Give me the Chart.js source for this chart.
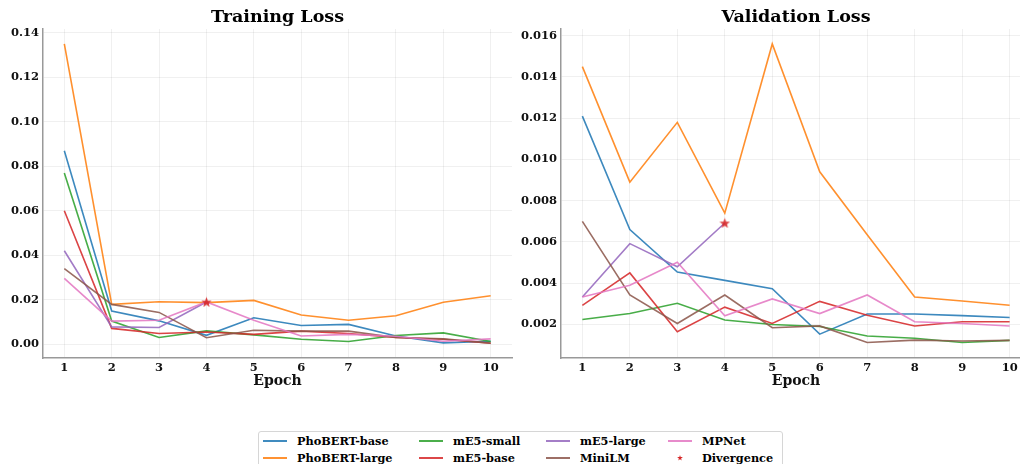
<!DOCTYPE html>
<html>
<head>
<meta charset="utf-8">
<script src="https://cdn.jsdelivr.net/npm/chart.js@4"></script>
<style>
  html, body { margin: 0; padding: 0; background: #fff; }
  #wrap { position: relative; width: 1020px; height: 464px; overflow: hidden; font-family: 'DejaVu Serif', serif; }
  canvas { position: absolute; top: 0; }
  #trainChart { left: 0; }
  #valChart { left: 510px; }
  .title { position: absolute; top: 6px; text-align: center; font-weight: bold; font-size: 17.5px; line-height: 21px; color: #000; }
  #legend { position: absolute; left: 258px; top: 431px; width: 523px; height: 44px; border: 1px solid #d6d6d6; border-radius: 3px; background: #fff; }
  .lg-line { position: absolute; width: 24px; height: 2px; opacity: 0.85; }
  .lg-text { position: absolute; font-weight: bold; font-size: 11.3px; line-height: 14px; color: #000; white-space: nowrap; }
  .lg-star { position: absolute; width: 6px; height: 6px; background: #d62728;
    clip-path: polygon(50% 0%, 61% 35%, 98% 35%, 68% 57%, 79% 91%, 50% 70%, 21% 91%, 32% 57%, 2% 35%, 39% 35%); }
</style>
</head>
<body>
<div id="wrap">
  <canvas id="trainChart" width="520" height="400"></canvas>
  <canvas id="valChart" width="530" height="400"></canvas>
  <div class="title" style="left:43px;width:469px;">Training Loss</div>
  <div class="title" style="left:561px;width:470px;">Validation Loss</div>
  <div id="legend"></div>
</div>
<script>
const epochs = [1, 2, 3, 4, 5, 6, 7, 8, 9, 10];
const models = ['PhoBERT-base', 'PhoBERT-large', 'mE5-small', 'mE5-base', 'mE5-large', 'MiniLM', 'MPNet'];

// training loss per model
const trainPhobertBase  = [0.087, 0.0149, 0.0105, 0.0040, 0.0119, 0.0084, 0.0089, 0.0037, 0.0006, 0.0013];
const trainPhobertLarge = [0.135, 0.0179, 0.0191, 0.0187, 0.0197, 0.0131, 0.0108, 0.0128, 0.0189, 0.0218];
const trainMe5Small     = [0.077, 0.0104, 0.0030, 0.0060, 0.0042, 0.0022, 0.0012, 0.0039, 0.0051, 0.0012];
const trainMe5Base      = [0.060, 0.0071, 0.0048, 0.0055, 0.0044, 0.0059, 0.0048, 0.0030, 0.0022, 0.0004];
const trainMe5Large     = [0.042, 0.0078, 0.0075, 0.0190, null, null, null, null, null, null];
const trainMiniLM       = [0.034, 0.0179, 0.0143, 0.0029, 0.0063, 0.0059, 0.0059, 0.0030, 0.0024, 0.0005];
const trainMPNet        = [0.0296, 0.0104, 0.0108, 0.0190, 0.0108, 0.0037, 0.0044, 0.0036, 0.0013, 0.0024];

// validation loss per model
const valPhobertBase  = [0.0121, 0.0066, 0.00454, 0.00414, 0.00373, 0.00153, 0.00251, 0.00251, 0.00243, 0.00234];
const valPhobertLarge = [0.0145, 0.0089, 0.0118, 0.0074, 0.0156, 0.0094, 0.00635, 0.00333, 0.00314, 0.00293];
const valMe5Small     = [0.00224, 0.00253, 0.00303, 0.00222, 0.0020, 0.0019, 0.00144, 0.00133, 0.00113, 0.00123];
const valMe5Base      = [0.00293, 0.0045, 0.00165, 0.00284, 0.00205, 0.00312, 0.00245, 0.00193, 0.00213, 0.00213];
const valMe5Large     = [0.00333, 0.00592, 0.0048, 0.00692, null, null, null, null, null, null];
const valMiniLM       = [0.0070, 0.00343, 0.00205, 0.00343, 0.00184, 0.00193, 0.00113, 0.00124, 0.0012, 0.00123];
const valMPNet        = [0.00333, 0.0039, 0.00502, 0.00242, 0.00324, 0.00253, 0.00343, 0.00213, 0.00205, 0.00193];

// epoch at which mE5-large diverged
const divergenceEpoch = 4;

const trainTicks = [0, 0.02, 0.04, 0.06, 0.08, 0.10, 0.12, 0.14];
const valTicks = [0.002, 0.004, 0.006, 0.008, 0.010, 0.012, 0.014, 0.016];

const colors = ['#1f77b4', '#ff7f0e', '#2ca02c', '#d62728', '#9467bd', '#8c564b', '#e377c2'];
const starColor = '#d62728';
const FONT = "'DejaVu Serif', serif";

// filled five point star like matplotlib '*'
const makeStar = (size, color) => {
  const c = document.createElement('canvas');
  c.width = size; c.height = size;
  const ctx = c.getContext('2d');
  const r = size / 2, ri = r * 0.42;
  ctx.beginPath();
  for (let i = 0; i < 10; i++) {
    const rad = i % 2 === 0 ? r : ri;
    const a = -Math.PI / 2 + i * Math.PI / 5;
    const px = r + rad * Math.cos(a), py = r + rad * Math.sin(a) + 0.5;
    i === 0 ? ctx.moveTo(px, py) : ctx.lineTo(px, py);
  }
  ctx.closePath();
  ctx.globalAlpha = 0.9;
  ctx.fillStyle = color;
  ctx.fill();
  return c;
};
const starImg = makeStar(11, starColor);

const toPoints = (vals) => vals.map((v, i) => ({ x: epochs[i], y: v }));

const buildDatasets = (series) => {
  const sets = series.map((vals, i) => ({
    type: 'line',
    label: models[i],
    data: toPoints(vals),
    borderColor: colors[i] + 'dd',
    borderWidth: 1.6,
    pointRadius: 0,
    tension: 0,
    spanGaps: false,
    order: -i
  }));
  const large = series[models.indexOf('mE5-large')];
  sets.push({
    type: 'scatter',
    label: 'Divergence',
    data: [{ x: divergenceEpoch, y: large[epochs.indexOf(divergenceEpoch)] }],
    pointStyle: starImg,
    pointRadius: 5,
    order: -100
  });
  return sets;
};

const makeChart = (el, series, yMin, yMax, ticks, decimals, yWidth, padRight) => {
  new Chart(el, {
    type: 'line',
    data: { datasets: buildDatasets(series) },
    options: {
      responsive: false,
      animation: false,
      events: [],
      layout: { padding: { top: 29, right: padRight, bottom: 10, left: 0 } },
      plugins: { legend: { display: false }, title: { display: false }, tooltip: { enabled: false } },
      scales: {
        x: {
          type: 'linear',
          min: 0.55,
          max: 10.45,
          afterBuildTicks: (s) => { s.ticks = epochs.map(v => ({ value: v })); },
          afterFit: (s) => { s.height = 32; },
          grid: { color: 'rgba(0,0,0,0.06)', lineWidth: 1, drawTicks: false },
          border: { color: '#999', width: 1.5 },
          ticks: { padding: 3, color: '#111', font: { family: FONT, size: 11.5, weight: 'bold' }, maxRotation: 0 },
          title: { display: true, text: 'Epoch', color: '#111', padding: 0, font: { family: FONT, size: 14, weight: 'bold' } }
        },
        y: {
          min: yMin,
          max: yMax,
          afterBuildTicks: (s) => { s.ticks = ticks.map(v => ({ value: v })); },
          afterFit: (s) => { s.width = yWidth; },
          grid: { color: 'rgba(0,0,0,0.06)', lineWidth: 1, drawTicks: false },
          border: { color: '#999', width: 1.5 },
          ticks: {
            padding: 4,
            color: '#111',
            font: { family: FONT, size: 11.5, weight: 'bold' },
            callback: (v) => v.toFixed(decimals)
          }
        }
      }
    }
  });
};

makeChart(document.getElementById('trainChart'),
  [trainPhobertBase, trainPhobertLarge, trainMe5Small, trainMe5Base, trainMe5Large, trainMiniLM, trainMPNet],
  -0.0062, 0.1417, trainTicks, 2, 43, 8);

makeChart(document.getElementById('valChart'),
  [valPhobertBase, valPhobertLarge, valMe5Small, valMe5Base, valMe5Large, valMiniLM, valMPNet],
  0.000375, 0.016325, valTicks, 3, 51, 9);

// legend, column-major like matplotlib ncol=4
const legend = document.getElementById('legend');
const legendItems = models.map((m, i) => ({ label: m, color: colors[i] }));
legendItems.push({ label: 'Divergence', star: true });
const textLeft = [38, 194, 321, 443];
const rowMid = [9, 26];
legendItems.forEach((item, k) => {
  const col = Math.floor(k / 2), row = k % 2;
  const tx = textLeft[col], cy = rowMid[row];
  if (item.star) {
    const s = document.createElement('div');
    s.className = 'lg-star';
    s.style.left = (tx - 22 - 3) + 'px';
    s.style.top = (cy - 3) + 'px';
    legend.appendChild(s);
  } else {
    const l = document.createElement('div');
    l.className = 'lg-line';
    l.style.left = (tx - 34) + 'px';
    l.style.top = (cy - 1) + 'px';
    l.style.background = item.color;
    legend.appendChild(l);
  }
  const t = document.createElement('div');
  t.className = 'lg-text';
  t.textContent = item.label;
  t.style.left = tx + 'px';
  t.style.top = (cy - 7) + 'px';
  legend.appendChild(t);
});
</script>
</body>
</html>
